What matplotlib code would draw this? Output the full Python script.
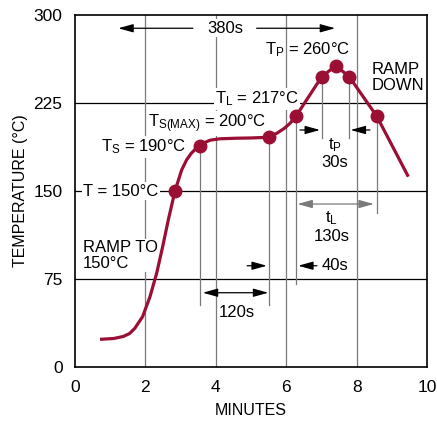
import numpy as np
import matplotlib.pyplot as plt

plt.rcParams['font.family'] = ['Liberation Sans', 'DejaVu Sans']
plt.rcParams['mathtext.fontset'] = 'custom'
plt.rcParams['mathtext.rm'] = 'Liberation Sans'
plt.rcParams['mathtext.it'] = 'Liberation Sans'

# profile curve (minutes, degC)
t_curve = [0.71, 1.1, 1.37, 1.55, 1.7, 1.92, 2.13, 2.32, 2.49, 2.65, 2.84, 3.03, 3.17,
           3.3, 3.42, 3.55, 3.7, 3.84, 4.12, 4.6, 5.0, 5.52, 5.75, 5.95, 6.12, 6.28,
           7.01, 7.41, 7.79, 8.57, 9.47]
temp_curve = [23.6, 24.3, 26.0, 28.5, 33.0, 42.9, 59.9, 79.9, 102.5, 125.3, 150, 167.9, 176.5,
              182.0, 185.7, 188.4, 191.5, 193.3, 194.5, 195, 195.2, 195.8, 199.5, 203.5, 208, 213.9,
              247.4, 256.8, 247.4, 213.9, 162.2]

# marked points
t_marks = [2.84, 3.55, 5.52, 6.28, 7.01, 7.41, 7.79, 8.57]
temp_marks = [150, 188.4, 195.8, 213.9, 247.4, 256.8, 247.4, 213.9]

# gray drop lines: x, top, bottom
drop_x = [3.55, 5.52, 6.28, 7.01, 7.79, 8.57]
drop_top = [188.4, 195.8, 213.9, 247.4, 247.4, 213.9]
drop_bot = [52.8, 52.8, 70.7, 195, 195, 131]

grid_y = [75, 150, 225]
grid_x = [2, 4, 6, 8]
xticks = [0, 2, 4, 6, 8, 10]
yticks = [0, 75, 150, 225, 300]

red = '#9a0f33'
gray = '#7a7a7a'

fig = plt.figure(figsize=(4.37, 4.23), dpi=100)
ax = fig.add_axes([75 / 437, 1 - 367 / 423, 352 / 437, 352 / 423])
ax.set_xlim(0, 10)
ax.set_ylim(0, 300)
ax.set_xticks(xticks)
ax.set_yticks(yticks)
ax.tick_params(length=0, labelsize=12.5, pad=9)
for s in ax.spines.values():
    s.set_linewidth(1.2)
ax.set_xlabel('MINUTES', fontsize=11.5, labelpad=6)
ax.set_ylabel('TEMPERATURE (°C)', fontsize=11.5, labelpad=4)

for y in grid_y:
    ax.axhline(y, color='k', lw=0.9, zorder=1)
for x in grid_x:
    ax.axvline(x, color=gray, lw=0.9, zorder=1)
for x, a, b in zip(drop_x, drop_top, drop_bot):
    ax.plot([x, x], [b, a], color=gray, lw=0.9, zorder=1)

ax.plot(t_curve, temp_curve, color=red, lw=2.3, zorder=4, solid_capstyle='butt')
ax.plot(t_marks, temp_marks, 'o', color=red, ms=9, zorder=5)

wb = dict(facecolor='white', edgecolor='none', pad=1)
fs = 12


def arrow(x0, x1, y, style='-|>', color='k'):
    ax.annotate('', xy=(x1, y), xytext=(x0, y),
                arrowprops=dict(arrowstyle=style + ',head_length=0.9,head_width=0.25',
                                color=color, lw=0.9, mutation_scale=10,
                                shrinkA=0, shrinkB=0), zorder=3)


# 380s
arrow(3.35, 1.23, 288.7)
arrow(5.16, 7.39, 288.7)
ax.text(4.26, 288.7, '380s', fontsize=fs, ha='center', va='center', bbox=wb, zorder=2)

# 120s
arrow(3.63, 5.49, 63.3, '<|-|>')
ax.text(4.59, 46.4, '120s', fontsize=fs, ha='center', va='center')

# 40s
arrow(4.89, 5.45, 86.3)
arrow(6.875, 6.34, 86.3)
ax.text(7.0, 86.3, '40s', fontsize=fs, ha='left', va='center')

# tL
arrow(6.32, 8.49, 138.9, '<|-|>', gray)
ax.text(7.29, 127, r'$\mathrm{t_L}$', fontsize=fs, ha='center', va='center')
ax.text(7.29, 111, '130s', fontsize=fs, ha='center', va='center')

# tP
arrow(6.39, 6.96, 202)
arrow(8.38, 7.83, 202)
ax.text(7.39, 189, r'$\mathrm{t_P}$', fontsize=fs, ha='center', va='center')
ax.text(7.39, 174, '30s', fontsize=fs, ha='center', va='center')

# temperature labels
ax.text(2.37, 150, 'T = 150°C', fontsize=fs, ha='right', va='center', bbox=wb, zorder=2)
ax.text(3.17, 187.5, r'$\mathrm{T_S}$ = 190°C', fontsize=fs, ha='right', va='center',
        bbox=wb, zorder=2)
ax.text(3.76, 207.5, r'$\mathrm{T_{S(MAX)}}$ = 200°C', fontsize=fs, ha='center', va='center',
        bbox=wb, zorder=2)
ax.text(5.17, 228.5, r'$\mathrm{T_L}$ = 217°C', fontsize=fs, ha='center', va='center',
        bbox=wb, zorder=2)
ax.text(6.6, 270.5, r'$\mathrm{T_P}$ = 260°C', fontsize=fs, ha='center', va='center')
ax.text(8.44, 246.7, 'RAMP\nDOWN', fontsize=fs, ha='left', va='center', linespacing=1.05)
ax.text(0.23, 95, 'RAMP TO\n150°C', fontsize=fs, ha='left', va='center', linespacing=1.05,
        bbox=wb, zorder=2)

fig.savefig('out.png', dpi=100)
